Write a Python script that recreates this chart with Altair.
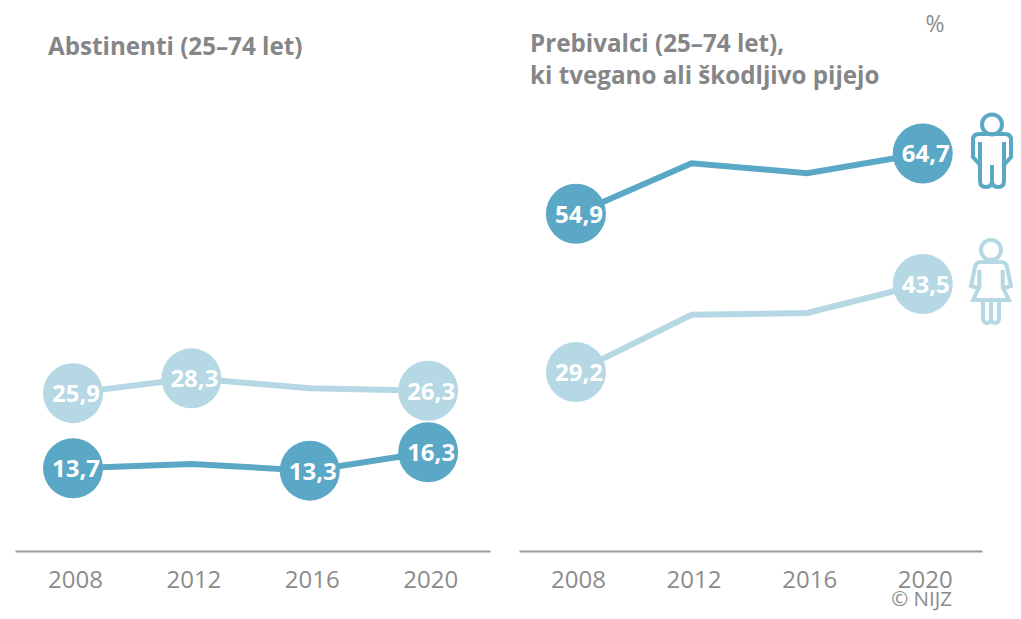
import re
import altair as alt
import pandas as pd

years = [2008, 2012, 2016, 2020]
left_light = [25.9, 28.3, 26.7, 26.3]
left_dark = [13.7, 14.4, 13.3, 16.3]
right_dark = [54.9, 63.1, 61.5, 64.7]
right_light = [29.2, 38.5, 38.8, 43.5]
left_light_show = [True, True, False, True]
left_dark_show = [True, False, True, True]
right_show = [True, False, False, True]
left_title = ["Abstinenti (25–74 let)"]
right_title = ["Prebivalci (25–74 let),", "ki tvegano ali škodljivo pijejo"]

DARK = "#5aa8c6"
LIGHT = "#b5d8e4"
GREY = "#858688"
FONT = "Open Sans"


def frame(light, dark, show_light, show_dark):
    rows = []
    for name, vals, show in (("light", light, show_light), ("dark", dark, show_dark)):
        for y, v, s in zip(years, vals, show):
            rows.append({"year": y, "value": v, "series": name, "show": s,
                         "label": f"{v:.1f}".replace(".", ",")})
    return pd.DataFrame(rows)


def scale_path(d, k):
    return re.sub(r"-?\d+(?:\.\d+)?", lambda m: f"{float(m.group()) / k:.4f}", d)


def head(cy, r, k):
    a, c, b = r / k, cy / k, -r / k
    return f"M{b:.4f},{c:.4f}A{a:.4f},{a:.4f} 0 1 0 {a:.4f},{c:.4f}A{a:.4f},{a:.4f} 0 1 0 {b:.4f},{c:.4f}"


ICON_K = 10
man_path = head(-26.5, 10, ICON_K) + scale_path(
    "M-12,-9L-12,30Q-12,36 -6,36Q0,36 0,30L0,14L0,30Q0,36 6,36Q12,36 12,30L12,-9"
    "M-12,14L-19,6L-19,-11Q-19,-17 -13,-17L13,-17Q19,-17 19,-11L19,6L12,14", ICON_K)
woman_path = head(-32, 10, ICON_K) + scale_path(
    "M-11.7,-12L-11.7,5L-18,18L18,18L11.7,5L11.7,-12"
    "M-13,6L-20,4L-16,-15Q-15,-20 -10,-20L10,-20Q15,-20 16,-15L20,4L13,6"
    "M-8,18L-8,36Q-8,41 -4,41Q0,41 0,36L0,18M0,36Q0,41 4,41Q8,41 8,36L8,18", ICON_K)


def panel(df, xrange, xdom, ydom, title, title_x, title_y):
    x = alt.X("year:Q", scale=alt.Scale(domain=xdom, range=xrange, nice=False, zero=False),
              axis=alt.Axis(values=years, format="d", title=None, grid=False, ticks=False, orient="bottom",
                            domainColor="#999999", domainWidth=2, labelFont=FONT, labelFontSize=24,
                            labelColor="#8c8c8c", labelPadding=17, labelFlush=False, labelOffset=2))
    y = alt.Y("value:Q", scale=alt.Scale(domain=ydom, nice=False, zero=False), axis=None)
    color = alt.Color("series:N", scale=alt.Scale(domain=["light", "dark"], range=[LIGHT, DARK]), legend=None)
    base = alt.Chart(df).encode(x=x, y=y, color=color)
    line = base.mark_line(strokeWidth=6, strokeJoin="miter").encode(detail="series:N")
    shown = base.transform_filter("datum.show")
    dots = shown.mark_circle(size=3600, opacity=1)
    labels = alt.Chart(df).transform_filter("datum.show").mark_text(
        font=FONT, fontWeight="bold", fontSize=24, color="white", dx=3, dy=2, baseline="middle"
    ).encode(x=x, y=y, text="label:N")
    ttl = alt.Chart(pd.DataFrame({"t": title, "i": range(len(title))})).mark_text(
        font=FONT, fontWeight="bold", fontSize=24.2, color=GREY, align="left", baseline="middle"
    ).encode(x=alt.value(title_x), y=alt.Y("py:Q", scale=None, axis=None), text="t:N"
             ).transform_calculate(py=f"{title_y} + datum.i * 32")
    return alt.layer(line, dots, labels, ttl)


left = panel(frame(left_light, left_dark, left_light_show, left_dark_show), [7, 482],
             [2006.04, 2022.09], [0.24, 88.5], left_title, 40, 40)

right_base = panel(frame(right_light, right_dark, right_show, right_show), [511, 974],
                   [2006.03, 2022.05], [0.16, 88.31], right_title, 522, 37)

extra = pd.DataFrame({"note": ["%"]})
pct = alt.Chart(extra).mark_text(font=FONT, fontSize=23, color="#8c8c8c", baseline="middle").encode(
    x=alt.value(927), y=alt.value(17), text="note:N")
nijz = alt.Chart(pd.DataFrame({"note": ["© NIJZ"]})).mark_text(
    font=FONT, fontSize=20.5, color="#8c8c8c", align="right", baseline="middle"
).encode(x=alt.value(944), y=alt.value(592), text="note:N")
man = alt.Chart(extra).mark_point(shape=man_path, size=(2 * ICON_K) ** 2, filled=False, color=DARK,
                                  strokeWidth=4, opacity=1).encode(x=alt.value(984), y=alt.value(143))
woman = alt.Chart(extra).mark_point(shape=woman_path, size=(2 * ICON_K) ** 2, filled=False, color=LIGHT,
                                    strokeWidth=4, opacity=1).encode(x=alt.value(983), y=alt.value(274))

chart = alt.layer(left, right_base, pct, nijz, man, woman).resolve_scale(
    x="independent", y="independent"
).resolve_axis(x="independent").configure_view(stroke=None).properties(
    width=1005, height=543, autosize=alt.AutoSizeParams(type="none"),
    padding={"left": 0, "top": 0, "right": 0, "bottom": 60})

chart.save("out.html", embed_options={"renderer": "svg", "actions": False})
